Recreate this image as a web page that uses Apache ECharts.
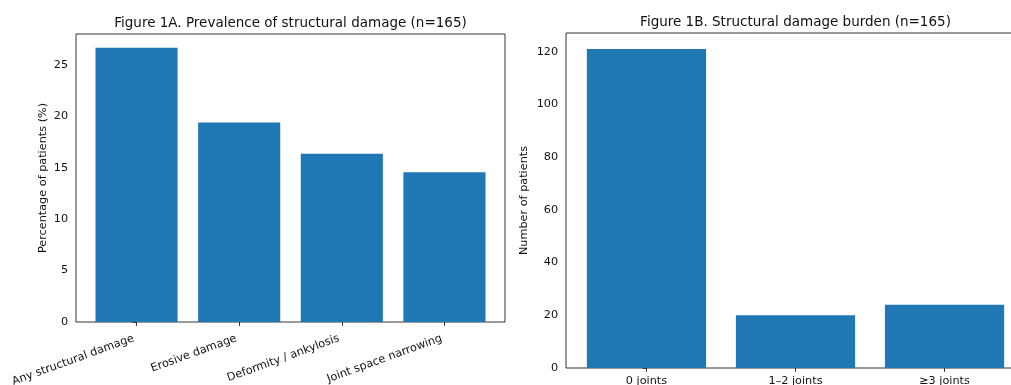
<!DOCTYPE html>
<html>
<head>
<meta charset="utf-8">
<script src="https://cdn.jsdelivr.net/npm/echarts@6/dist/echarts.min.js"></script>
<style>
  html, body { margin: 0; padding: 0; background: #fff; overflow: hidden; width: 1011px; height: 385px; }
  #chart { width: 1040px; height: 385px; }
</style>
</head>
<body>
<div id="chart"></div>
<script>
// ---- Data ----
const titleA = 'Figure 1A. Prevalence of structural damage (n=165)';
const titleB = 'Figure 1B. Structural damage burden (n=165)';
const categoriesA = ['Any structural damage', 'Erosive damage', 'Deformity / ankylosis', 'Joint space narrowing'];
const valuesA = [26.67, 19.39, 16.36, 14.55];
const yTicksA = [0, 5, 10, 15, 20, 25];
const yNameA = 'Percentage of patients (%)';

const categoriesB = ['0 joints', '1–2 joints', '≥3 joints'];
const valuesB = [121, 20, 24];
const yTicksB = [0, 20, 40, 60, 80, 100, 120];
const yNameB = 'Number of patients';

// ---- Style ----
const FONT = 'DejaVu Sans';
const TXT = '#111';
const BAR = '#1f77b4';
const LINE = '#333';

const chart = echarts.init(document.getElementById('chart'), null, { renderer: 'canvas' });

function idx(arr) { return arr.map((_, i) => i); }
function pad(n) { const m = 0.05 * (n - 1 + 0.8); return [-0.4 - m, n - 1 + 0.4 + m]; }

const xrA = pad(categoriesA.length);
const xrB = pad(categoriesB.length);

const gridA = { left: 76, top: 34, width: 429, height: 288 };
const gridB = { left: 566, top: 33, width: 459, height: 335 };

const bwA = 0.8 * gridA.width / (xrA[1] - xrA[0]);
const bwB = 0.8 * gridB.width / (xrB[1] - xrB[0]);

function xAxis(gi, cats, xr, rotate, margin, padRight) {
  return {
    type: 'value', gridIndex: gi, min: xr[0], max: xr[1],
    splitLine: { show: false },
    axisLine: { show: false },
    axisTick: { show: true, length: 3.9, lineStyle: { color: LINE, width: 1 }, customValues: idx(cats) },
    axisLabel: {
      customValues: idx(cats),
      formatter: v => cats[Math.round(v)] ?? '',
      rotate: rotate, margin: margin, padding: [0, padRight, 0, 0],
      color: TXT, fontFamily: FONT, fontSize: 11.25
    }
  };
}
function yAxis(gi, ticks, max, name, gap) {
  return {
    type: 'value', gridIndex: gi, min: 0, max: max,
    name: name, nameLocation: 'middle', nameGap: gap,
    nameTextStyle: { color: TXT, fontFamily: FONT, fontSize: 11.25 },
    splitLine: { show: false },
    axisLine: { show: false },
    axisTick: { show: true, length: 3.9, lineStyle: { color: LINE, width: 1 }, customValues: ticks },
    axisLabel: { customValues: ticks, margin: 7.9, color: TXT, fontFamily: FONT, fontSize: 11.25 }
  };
}

const gridBase = { show: true, borderColor: LINE, borderWidth: 1, backgroundColor: 'transparent',
  containLabel: false, outerBoundsMode: 'none' };

const option = {
  animation: false,
  backgroundColor: '#fff',
  title: [
    { text: titleA, left: gridA.left + gridA.width / 2, top: 16.5, textAlign: 'center', padding: 0,
      textStyle: { color: TXT, fontFamily: FONT, fontSize: 13.5, fontWeight: 'normal' } },
    { text: titleB, left: gridB.left + gridB.width / 2, top: 15, textAlign: 'center', padding: 0,
      textStyle: { color: TXT, fontFamily: FONT, fontSize: 13.5, fontWeight: 'normal' } }
  ],
  grid: [
    Object.assign({}, gridBase, gridA),
    Object.assign({}, gridBase, gridB)
  ],
  xAxis: [
    xAxis(0, categoriesA, xrA, 20, 15, 3),
    xAxis(1, categoriesB, xrB, 0, 8, 0)
  ],
  yAxis: [
    yAxis(0, yTicksA, Math.max(...valuesA) * 1.05, yNameA, 27),
    yAxis(1, yTicksB, Math.max(...valuesB) * 1.05, yNameB, 36)
  ],
  series: [
    { type: 'bar', xAxisIndex: 0, yAxisIndex: 0, barWidth: bwA,
      itemStyle: { color: BAR }, data: valuesA.map((v, i) => [i, v]) },
    { type: 'bar', xAxisIndex: 1, yAxisIndex: 1, barWidth: bwB,
      itemStyle: { color: BAR }, data: valuesB.map((v, i) => [i, v]) }
  ]
};
chart.setOption(option);
</script>
</body>
</html>
